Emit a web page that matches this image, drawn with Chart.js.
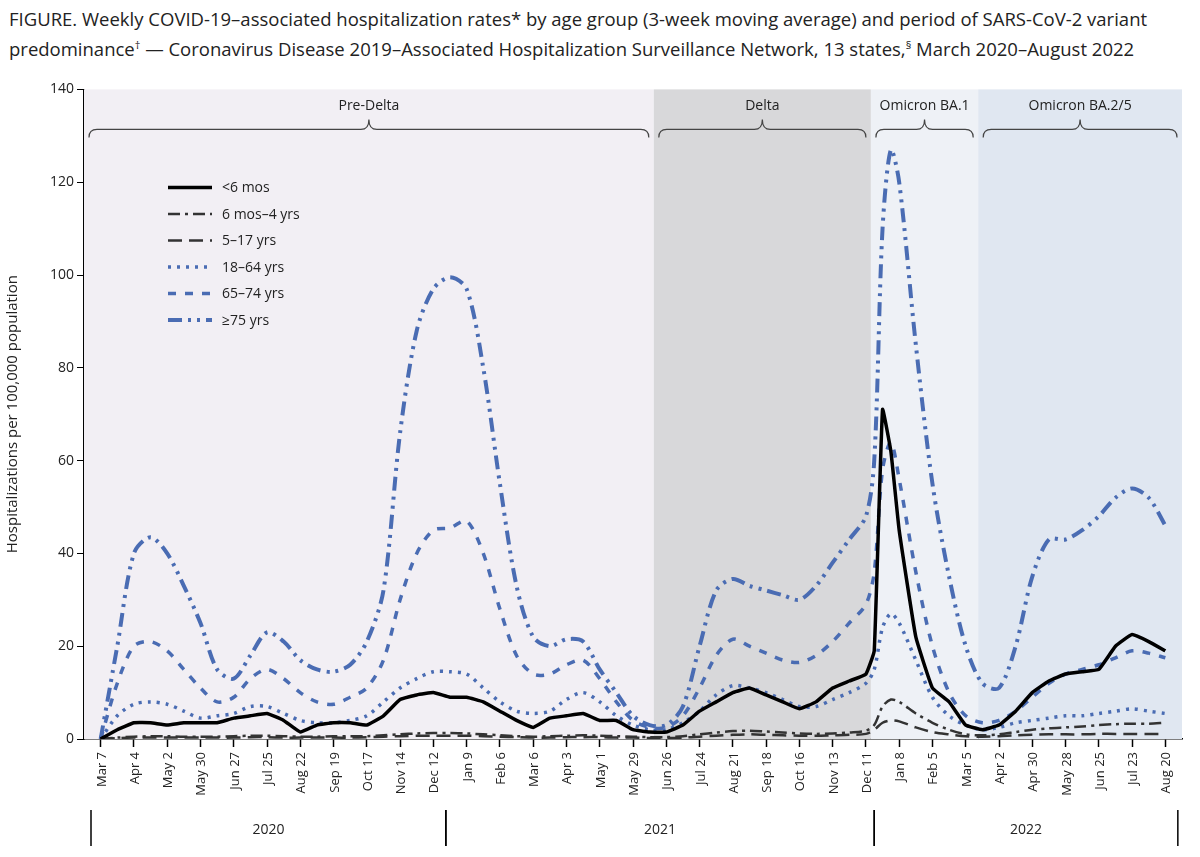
<!DOCTYPE html>
<html><head><meta charset="utf-8">
<script src="https://cdn.jsdelivr.net/npm/chart.js@4"></script>
<style>
body{margin:0;background:#fff;font-family:"Open Sans",sans-serif;}
#t{position:absolute;left:9px;top:6px;width:1185px;font-size:18.5px;line-height:26px;color:#222;}
#w{position:absolute;left:0;top:78px;width:1200px;height:779px;}
</style></head><body>
<div id="t">FIGURE. Weekly COVID-19–associated hospitalization rates* by age group (3-week moving average) and period of SARS-CoV-2 variant predominance<sup style="font-size:11px">†</sup> — Coronavirus Disease 2019–Associated Hospitalization Surveillance Network, 13 states,<sup style="font-size:11px">§</sup> March 2020–August 2022</div>
<div id="w"><canvas id="c"></canvas></div>
<script>
const tickLabels=["Mar 7","Apr 4","May 2","May 30","Jun 27","Jul 25","Aug 22","Sep 19","Oct 17","Nov 14","Dec 12","Jan 9","Feb 6","Mar 6","Apr 3","May 1","May 29","Jun 26","Jul 24","Aug 21","Sep 18","Oct 16","Nov 13","Dec 11","Jan 8","Feb 5","Mar 5","Apr 2","Apr 30","May 28","Jun 25","Jul 23","Aug 20"];
const weeks=[0,2,4,6,8,10,12,14,16,18,20,22,24,26,28,30,32,34,36,38,40,42,44,46,48,50,52,54,56,58,60,62,64,66,68,70,72,74,76,78,80,82,84,86,88,90,92,93,94,95,96,98,100,102,104,106,108,110,112,114,116,118,120,122,124,126,128];
const under6m=[0,2,3.5,3.5,3,3.5,3.5,3.5,4.5,5,5.5,4,1.5,3,3.5,3.5,3,5,8.5,9.5,10,9,9,8,6,4,2.5,4.5,5,5.5,4,4,2,1.5,1.5,3,6,8,10,11,9.5,8,6.5,8,11,12.5,14,19,71,62,45,22,11,8,3,2,3,6,10,12.5,14,14.5,15,20,22.5,21,19];
const m6to4y=[0,0.3,0.5,0.6,0.6,0.5,0.5,0.5,0.6,0.7,0.7,0.6,0.5,0.5,0.6,0.6,0.6,0.8,1,1.2,1.3,1.3,1.2,1,0.8,0.6,0.5,0.6,0.7,0.8,0.7,0.6,0.5,0.4,0.4,0.6,1,1.4,1.7,1.8,1.6,1.4,1.2,1.1,1.2,1.4,1.8,3,7,8.5,8,5.5,3.5,2,1,0.8,1,1.5,2,2.3,2.5,2.7,3,3.2,3.3,3.3,3.5];
const y5to17=[0,0.2,0.3,0.3,0.3,0.3,0.3,0.3,0.3,0.4,0.4,0.3,0.3,0.3,0.3,0.3,0.4,0.5,0.6,0.7,0.7,0.7,0.7,0.6,0.5,0.4,0.3,0.3,0.4,0.4,0.4,0.3,0.3,0.2,0.2,0.3,0.5,0.7,0.9,1,0.9,0.8,0.7,0.7,0.8,0.9,1.1,2,3.5,4,3.8,2.5,1.5,1,0.6,0.5,0.6,0.8,0.9,1,1,1,1.1,1.1,1.1,1.1,1.1];
const y18to64=[0,5,7.5,8,7.5,6,4.5,5,5.5,7,7,5.5,4,3.5,3.5,4,5,8,11,13,14.5,14.5,14,11,8,6,5.5,6,8.5,10,8,5,3,2,2,3.5,6,9.5,11.5,11,10,8.5,7,7,8.5,10,12,15,24,27,25,17,9,5,3,2,2.5,3.5,4,4.5,5,5,5.5,6,6.5,6,5.5];
const y65to74=[0,12,20,21,19,15,11,8,9,13,15,13,10,8,7.5,9,11,17,30,40,45,45.5,47,40,28,18,14,14,16,17,13,8,4,2.5,2.5,5,11,18,21.5,20,18.5,17,16.5,18,21,25,29,36,58,64,56,36,20,10,5,3.5,4,6,9,12,14,15,16,17.5,19,18.5,17.5];
const y75plus=[0,20,40,43.5,40,33,25,15,13,18,23,21,17,15,14.5,16,21,32,66,88,97,99.5,97,80,55,33,22,20,21.5,21,15,10,5,3,3,7,20,32,34.5,33,32,31,30,33,38,43,48,60,110,127,120,85,55,35,20,12,11,20,35,43,43,45,48,52,54,52,46];
const blue="#4a6cb3";
const pts=a=>a.map((v,i)=>({x:weeks[i],y:v}));
const ds=[
 {label:"<6 mos",data:pts(under6m),borderColor:"#000",borderWidth:3.5,borderDash:[],tension:0.1},
 {label:"6 mos–4 yrs",data:pts(m6to4y),borderColor:"#333",borderWidth:2.5,borderDash:[12,5,3,5]},
 {label:"5–17 yrs",data:pts(y5to17),borderColor:"#333",borderWidth:2.5,borderDash:[14,7]},
 {label:"18–64 yrs",data:pts(y18to64),borderColor:blue,borderWidth:3.5,borderDash:[3,6]},
 {label:"65–74 yrs",data:pts(y65to74),borderColor:blue,borderWidth:3.5,borderDash:[8,9]},
 {label:"≥75 yrs",data:pts(y75plus),borderColor:blue,borderWidth:4,borderDash:[14,6,3,6,3,6]}
].map(d=>Object.assign({pointRadius:0,tension:0.3,fill:false},d));
const periods=[{name:"Pre-Delta",a:-2,b:66.5,c:"#f2eff4"},{name:"Delta",a:66.5,b:92.6,c:"#d8d8da"},{name:"Omicron BA.1",a:92.6,b:105.5,c:"#eef1f6"},{name:"Omicron BA.2/5",a:105.5,b:130,c:"#e0e7f1"}];
const years=[{name:"2020",a:-2,b:41.5},{name:"2021",a:41.5,b:93},{name:"2022",a:93,b:129.5}];
function brace(ctx,x1,x2,y){const m=(x1+x2)/2,h=10;ctx.beginPath();ctx.moveTo(x1,y+h+8);ctx.quadraticCurveTo(x1,y+h,x1+8,y+h);ctx.lineTo(m-8,y+h);ctx.quadraticCurveTo(m,y+h,m,y);ctx.quadraticCurveTo(m,y+h,m+8,y+h);ctx.lineTo(x2-8,y+h);ctx.quadraticCurveTo(x2,y+h,x2,y+h+8);ctx.stroke();}
const deco={id:"deco",
 beforeDatasetsDraw(ch){const {ctx,chartArea:ca,scales:{x}}=ch;ctx.save();
  periods.forEach(p=>{let l=Math.max(ca.left,x.getPixelForValue(p.a)),r=Math.min(ca.right,x.getPixelForValue(p.b));ctx.fillStyle=p.c;ctx.fillRect(l,ca.top,r-l,ca.bottom-ca.top);
   ctx.fillStyle="#222";ctx.font="14px 'Open Sans'";ctx.textAlign="center";ctx.fillText(p.name,(l+r)/2,ca.top+21);
   ctx.strokeStyle="#444";ctx.lineWidth=1.2;brace(ctx,l+5,r-5,ca.top+30);});
  ctx.restore();},
 afterDraw(ch){const {ctx,chartArea:ca,scales:{x}}=ch;ctx.save();
  ctx.fillStyle="#222";ctx.font="13px 'Open Sans'";
  tickLabels.forEach((t,i)=>{const px=x.getPixelForValue(i*4);ctx.save();ctx.translate(px+5,ca.bottom+13);ctx.rotate(-Math.PI/2);ctx.textAlign="right";ctx.fillText(t,0,0);ctx.restore();});
  const yl=ca.bottom+71;ctx.strokeStyle="#000";ctx.lineWidth=1.5;ctx.font="14px 'Open Sans'";ctx.textAlign="center";
  years.forEach(p=>{let l=Math.max(ca.left+7,x.getPixelForValue(p.a)),r=Math.min(ca.right,x.getPixelForValue(p.b));
   [l,r].forEach(v=>{ctx.beginPath();ctx.moveTo(v,yl);ctx.lineTo(v,yl+36);ctx.stroke();});ctx.fillText(p.name,(l+r)/2,yl+24);});
  ch.data.datasets.forEach((d,i)=>{const y=ca.top+98+i*26.5;ctx.strokeStyle=d.borderColor;ctx.lineWidth=d.borderWidth;ctx.setLineDash(d.borderDash);ctx.beginPath();ctx.moveTo(ca.left+84,y);ctx.lineTo(ca.left+128,y);ctx.stroke();ctx.setLineDash([]);ctx.fillStyle="#222";ctx.textAlign="left";ctx.fillText(d.label,ca.left+138,y+5);});
  ctx.restore();}};
new Chart(document.getElementById("c"),{type:"line",data:{datasets:ds},plugins:[deco],
 options:{responsive:true,maintainAspectRatio:false,animation:false,layout:{padding:{top:11,right:18}},
 plugins:{legend:{display:false},tooltip:{enabled:false}},
 scales:{
  x:{type:"linear",min:-2,max:130,afterFit(s){s.height=118;},afterBuildTicks(s){s.ticks=tickLabels.map((_,i)=>({value:i*4}));},
   ticks:{display:false},
   grid:{drawOnChartArea:false,color:"#000",tickLength:8,tickWidth:1.5},border:{color:"#000",width:1.5}},
  y:{min:0,max:140,afterFit(s){s.width=84;},ticks:{stepSize:20,color:"#222",font:{size:14,family:"Open Sans"}},
   title:{display:true,text:"Hospitalizations per 100,000 population",color:"#222",font:{size:15,family:"Open Sans"}},
   grid:{drawOnChartArea:false,color:"#000",tickLength:7},border:{color:"#000",width:1.5}}
 }}});
</script></body></html>
